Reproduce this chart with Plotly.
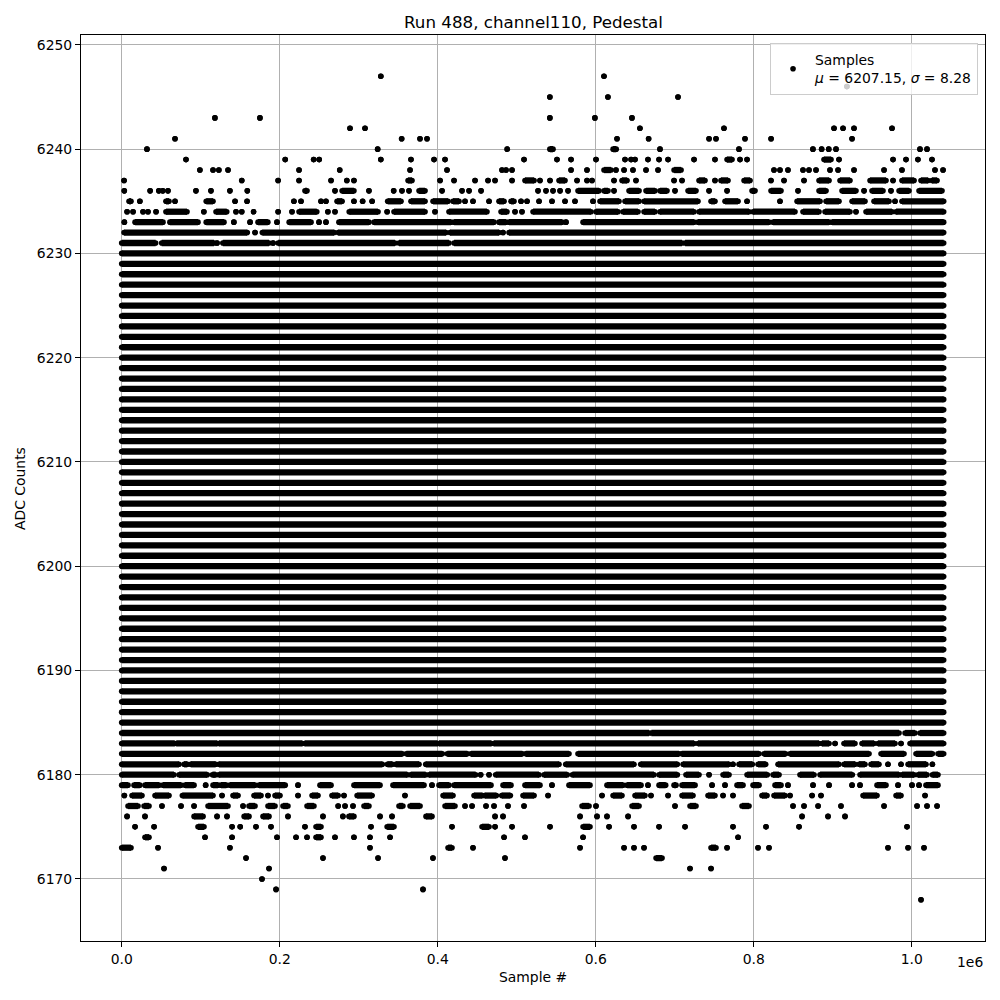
import plotly.graph_objects as go

# ---------------- data (sample index in units of 1e6, ADC code levels) ----------------
SCALE = 1e6
full_levels = [6185, 6186, 6187, 6188, 6189, 6190, 6191, 6192, 6193, 6194, 6195, 6196,
               6197, 6198, 6199, 6200, 6201, 6202, 6203, 6204, 6205, 6206, 6207, 6208,
               6209, 6210, 6211, 6212, 6213, 6214, 6215, 6216, 6217, 6218, 6219, 6220,
               6221, 6222, 6223, 6224, 6225, 6226, 6227, 6228, 6229, 6230]
full_run = (0.0, 1.0405)

# outer ADC codes: runs of consecutive samples (a, b) or isolated samples (x)
edge_levels = [6247, 6246, 6245, 6243, 6242, 6241, 6240, 6239, 6238, 6237, 6236, 6235,
               6234, 6233, 6232, 6231,
               6184, 6183, 6182, 6181, 6180, 6179, 6178, 6177, 6176, 6175, 6174, 6173,
               6172, 6171, 6170, 6169, 6168]
edge_runs = [
    [0.328, 0.6105],
    [0.918],
    [0.542, 0.6155, 0.7042],
    [0.118, 0.175, 0.542, 0.599, 0.6459],
    [0.289, 0.308, 0.656, 0.7624, 0.9017, 0.9131, 0.927, 0.9751],
    [0.0675, 0.3544, 0.3776, 0.3865, 0.627, 0.667, 0.7435, 0.7523, 0.789, 0.822, 0.9245],
    [0.032, 0.324, 0.488, (0.542, 0.546), (0.622, 0.626), 0.6814, 0.7814, 0.875, 0.886,
     0.895, 0.9042, 1.0105, 1.0194],
    [0.0814, 0.207, 0.243, 0.250, 0.328, 0.3662, 0.3954, 0.4093, 0.5093, 0.551, 0.5688,
     0.6004, 0.6371, 0.6448, 0.6498, 0.6662, 0.6802, 0.6916, 0.7245, 0.751, (0.7663, 0.7726),
     0.7827, 0.7916, (0.889, 0.8979), 0.908, 0.9764, 0.9928, 1.0079, 1.0257],
    [0.099, 0.1156, 0.123, 0.1346, 0.2245, 0.276, 0.365, 0.4118, 0.4814, 0.4865, 0.4941,
     0.5688, 0.589, (0.6105, 0.6194), 0.6257, 0.6359, 0.6472, 0.6637, 0.6789, (0.6992, 0.7081),
     0.8257, 0.8333, 0.8434, 0.8624, 0.87, 0.8789, 0.8966, 0.9068, 0.927, 0.965, 0.9877,
     1.0295, 1.0397],
    [0.003, 0.152, 0.198, 0.2245, 0.265, 0.285, 0.294, (0.3625, 0.3675), 0.403, 0.4207,
     0.4473, 0.4637, 0.4726, 0.4941, (0.5105, 0.522), 0.5295, 0.5422, (0.5536, 0.5612),
     0.5764, 0.589, 0.5954, 0.6232, (0.6333, 0.6397), 0.651, 0.6992, 0.7093, (0.7308, 0.7384),
     0.751, (0.7586, 0.7675), (0.7878, 0.7954), 0.8219, 0.8384, 0.8637, (0.8827, 0.8954),
     (0.9093, 0.9219), (0.9473, 0.9675), 0.9764, (0.9877, 1.003), (1.0118, 1.0207),
     (1.0257, 1.0321)],
    [0.0033, 0.036, 0.047, 0.052, 0.0586, 0.094, 0.113, 0.137, 0.159, (0.232, 0.2346), 0.27,
     (0.279, 0.294), 0.313, 0.3443, 0.3548, 0.3637, (0.3764, 0.384), 0.4055, 0.4308, 0.4397,
     0.4549, 0.527, 0.5371, 0.546, 0.5549, 0.565, (0.5776, 0.6042), (0.6105, 0.6156), 0.6232,
     (0.6422, 0.6549), (0.6637, 0.6751), (0.6814, 0.6903), 0.7004, (0.7169, 0.727), 0.7435,
     0.7663, (0.7979, 0.8017), (0.8219, 0.8346), 0.8561, (0.8827, 0.8916), (0.9118, 0.9295),
     0.9397, (0.9498, 0.9637), 0.9738, (0.984, 0.9966), (1.0093, 1.0384)],
    [(0.0093, 0.0118), 0.023, (0.056, 0.0599), 0.0675, (0.107, 0.1156), 0.1435, 0.1587, 0.218,
     0.227, 0.2523, 0.2586, (0.2726, 0.279), 0.294, 0.305, 0.317, (0.3367, 0.3536),
     (0.3662, 0.384), (0.3941, 0.4131), (0.4194, 0.427), 0.4346, 0.4447, 0.465, (0.4776, 0.484),
     (0.4928, 0.4966), 0.5055, 0.5131, 0.5283, 0.5447, 0.5612, 0.5738, 0.5966, (0.6055, 0.6295),
     (0.6371, 0.6549), (0.6612, 0.7295), (0.746, 0.751), (0.7637, 0.7802), 0.7916, 0.8333,
     (0.8549, 0.884), (0.8916, 0.908), (0.9245, 0.9409), (0.9523, 0.9713), 0.9789,
     (0.9877, 1.0405)],
    [0.0068, 0.0144, 0.027, 0.0333, 0.0435, (0.056, 0.0827), 0.104, (0.1194, 0.133), 0.1447,
     0.152, 0.167, 0.198, 0.2156, (0.2245, 0.247), 0.261, 0.27, (0.288, 0.3245), 0.336,
     (0.3447, 0.384), 0.3966, (0.4143, 0.4624), (0.4802, 0.4878), 0.4979, 0.5067,
     (0.5207, 0.5941), (0.6004, 0.6283), (0.6346, 0.6536), (0.6612, 0.6751), (0.6814, 0.7245),
     (0.7308, 0.7941), (0.7992, 0.8523), (0.8624, 0.8827), (0.8903, 0.9219), 0.9295,
     (0.9422, 0.9751), (0.9802, 1.0405)],
    [0.0034, (0.0169, 0.0523), (0.061, 0.0966), (0.107, 0.1295), 0.142, 0.1625, (0.1726, 0.185),
     0.1966, (0.212, 0.2397), 0.2498, 0.2586, (0.275, 0.313), (0.3194, 0.4169), (0.4207, 0.4713),
     (0.4776, 0.4865), (0.4903, 0.5574), 0.5624, (0.584, 0.7245), (0.7295, 0.8194),
     (0.8245, 0.8954), (0.8992, 1.0405)],
    [(0.003, 0.159), 0.1688, (0.178, 0.269), (0.274, 0.4105), (0.4156, 0.4776), 0.4827,
     (0.4903, 1.0405)],
    [(0.0, 0.043), (0.0506, 0.117), 0.1207, (0.128, 0.1865), 0.1916, (0.198, 0.346),
     (0.351, 0.4143), (0.4207, 0.7093), (0.7131, 1.0405)],
    [(0.0, 0.6675), (0.6705, 0.984), (0.9916, 1.0042), (1.0105, 1.0405)],
    [(0.0, 0.0671), (0.0692, 0.121), (0.123, 0.2287), (0.2316, 0.400), (0.4017, 0.468),
     (0.471, 0.7245), (0.7295, 0.8827), (0.8865, 0.8954), 0.903, (0.9143, 0.9282),
     (0.9371, 0.9523), (0.9574, 0.9789), 0.9865, (0.9979, 1.0405)],
    [(0.0, 0.3553), (0.3603, 0.4059), (0.4122, 0.4376), (0.4422, 0.5072), (0.5114, 0.5662),
     (0.5776, 0.7055), (0.7089, 0.8068), (0.8131, 0.8405), (0.846, 0.946), (0.9612, 0.9903),
     (1.0055, 1.0262), (1.0333, 1.0405)],
    [(0.0, 0.0726), (0.0789, 0.0831), (0.0873, 0.119), (0.123, 0.33), (0.3363, 0.3426),
     (0.3468, 0.3764), (0.3848, 0.5536), (0.562, 0.6485), (0.657, 0.7034), (0.7106, 0.7688),
     0.7738, (0.7814, 0.7983), (0.8055, 0.8152), (0.8308, 0.908), (0.9143, 0.9282),
     (0.9333, 0.9409), (0.9485, 0.9586), 0.97, 0.9865, (0.9954, 1.0181), 1.0262],
    [(0.0, 0.0662), (0.0726, 0.1084), (0.1148, 0.119), (0.123, 0.3616), (0.3658, 0.3848),
     (0.389, 0.4481), 0.4544, 0.465, (0.4734, 0.5283), (0.5346, 0.5641), (0.5705, 0.6738),
     (0.6802, 0.7034), (0.7143, 0.7308), 0.7435, (0.7612, 0.7688), (0.7916, 0.8173),
     (0.8245, 0.8321), (0.8586, 0.8764), (0.884, 0.9249), (0.9346, 0.984), (0.9877, 1.003),
     (1.008, 1.0194), (1.0262, 1.0333)],
    [(0.0, 0.008), (0.0156, 0.023), (0.0295, 0.0473), (0.0523, 0.0751), (0.0802, 0.0916),
     0.1063, (0.1156, 0.122), (0.1257, 0.1325), (0.137, 0.1688), (0.1738, 0.207), 0.2232,
     (0.251, 0.265), (0.294, 0.327), (0.3434, 0.3827), 0.3928, (0.4017, 0.4143),
     (0.4207, 0.4675), (0.4827, 0.4928), (0.5105, 0.5295), 0.5447, (0.5662, 0.5928),
     (0.6143, 0.6346), (0.6397, 0.6574), 0.6662, (0.6802, 0.6886), (0.6992, 0.7017),
     (0.7093, 0.7258), 0.7473, 0.7637, (0.7789, 0.7865), (0.7992, 0.8068), (0.827, 0.8346),
     0.8434, 0.8751, 0.8954, 0.9245, 0.9346, (0.9561, 0.9675), 0.9827, 1.0004, 1.0093,
     (1.0181, 1.0333)],
    [0.0034, (0.0131, 0.0257), (0.0422, 0.0599), (0.0768, 0.1156), 0.127, (0.1409, 0.1473),
     (0.1675, 0.1764), 0.1852, (0.1941, 0.2004), 0.2232, (0.241, 0.2485), (0.2662, 0.274),
     0.2814, (0.298, 0.317), 0.3586, (0.4068, 0.4194), (0.446, 0.4566), (0.4595, 0.4743),
     (0.481, 0.492), (0.508, 0.522), 0.5397, 0.608, (0.622, 0.6333), (0.6498, 0.6624), 0.67,
     0.6916, (0.7093, 0.7232), (0.7422, 0.751), 0.7612, 0.7738, (0.8105, 0.8169),
     (0.8257, 0.8397), 0.846, 0.8739, 0.8852, (0.9384, 0.9561), (0.9802, 0.9865), 1.0169],
    [(0.008, 0.0207), (0.0283, 0.0346), 0.051, 0.0751, 0.0916, (0.1093, 0.1346), 0.1536,
     (0.1612, 0.1688), (0.1852, 0.1941), (0.2042, 0.2105), (0.2346, 0.2434), 0.274, 0.2827,
     0.2928, (0.3067, 0.313), (0.351, 0.356), (0.365, 0.3777), (0.4093, 0.4219), 0.4346,
     0.4435, 0.4612, 0.4713, 0.489, 0.5093, (0.5827, 0.5916), 0.6004, (0.646, 0.6549), 0.7004,
     (0.7194, 0.727), (0.7852, 0.7941), 0.8498, 0.8637, 0.8815, 0.9105, 0.965, 1.0068, 1.0194,
     1.0321],
    [0.0068, 0.0295, (0.0916, 0.103), 0.1207, 0.1333, (0.155, 0.1612), (0.1789, 0.1865), 0.2105,
     0.2548, 0.28, (0.2877, 0.294), 0.327, 0.3422, (0.3852, 0.3928), 0.4726, 0.4827, 0.5802,
     0.6017, 0.6143, 0.641, 0.8612, 0.8941, 0.9156],
    [0.0169, 0.041, (0.0966, 0.1042), 0.1397, 0.15, 0.17, 0.189, 0.232, (0.246, 0.2523), 0.3156,
     (0.336, 0.3447), 0.4181, (0.4561, 0.465), 0.4726, 0.4941, 0.5422, (0.584, 0.5928), 0.6169,
     0.6485, 0.6802, 0.7131, 0.7738, 0.8156, 0.8574, 0.9941],
    [(0.0295, 0.0346), 0.1055, 0.1397, 0.1966, 0.2207, 0.2346, (0.246, 0.2523), 0.27, 0.294,
     0.3143, 0.3397, 0.484, 0.5105, 0.584, 0.7802],
    [(0.0, 0.0118), 0.046, 0.137, 0.3143, (0.4131, 0.4181), 0.4447, 0.5802, 0.6359, 0.6485,
     0.6612, (0.746, 0.7523), 0.7663, 0.8055, 0.8194, 0.97, 0.9954, 1.0156],
    [0.1574, 0.2548, 0.3245, 0.394, 0.4852, (0.6764, 0.684)],
    [0.0536, 0.1865, 0.7194, 0.746],
    [0.1776],
    [0.1954, 0.3814],
    [1.0118],
]

x_ticks = [0.0, 0.2, 0.4, 0.6, 0.8, 1.0]
x_tick_labels = ["0.0", "0.2", "0.4", "0.6", "0.8", "1.0"]
y_ticks = [6170, 6180, 6190, 6200, 6210, 6220, 6230, 6240, 6250]
title_text = "Run 488, channel110, Pedestal"
legend_text = "Samples<br><i>μ</i> = 6207.15, <i>σ</i> = 8.28"

# ---------------- build marks ----------------
xs, ys = [], []


def add_run(level, run):
    a, b = (run, run) if isinstance(run, (int, float)) else run
    xs.extend([a * SCALE, b * SCALE, None])
    ys.extend([level, level, None])


for lvl in full_levels:
    add_run(lvl, full_run)
for lvl, runs in zip(edge_levels, edge_runs):
    for r in runs:
        add_run(lvl, r)

FONT = "DejaVu Sans"
MS = 5.6
LW = 6.3

fig = go.Figure()
fig.add_trace(go.Scatter(
    x=xs, y=ys, mode="lines+markers", showlegend=False, hoverinfo="skip",
    line=dict(color="black", width=LW),
    marker=dict(color="black", size=MS, line=dict(width=0)),
    connectgaps=False,
))
fig.add_trace(go.Scatter(
    x=[None], y=[None], mode="markers", name=legend_text,
    marker=dict(color="black", size=MS, line=dict(width=0)),
))

axis_common = dict(
    showgrid=True, gridcolor="#b0b0b0", gridwidth=1,
    showline=True, linecolor="black", linewidth=1, mirror=True,
    ticks="outside", ticklen=5, tickwidth=1, tickcolor="black",
    tickfont=dict(family=FONT, size=13.9, color="black"),
    zeroline=False,
)

fig.update_layout(
    width=992, height=992,
    margin=dict(l=73, r=15, t=27, b=59),
    paper_bgcolor="white", plot_bgcolor="white",
    font=dict(family=FONT, size=13.9, color="black"),
    xaxis=dict(range=[-0.0515 * SCALE, 1.0928 * SCALE],
               tickvals=[v * SCALE for v in x_ticks], ticktext=x_tick_labels,
               **axis_common),
    yaxis=dict(range=[6164.05, 6250.95], tickvals=y_ticks, **axis_common),
    legend=dict(x=0.9923, y=0.991, xanchor="right", yanchor="top",
                bgcolor="rgba(255,255,255,0.8)", bordercolor="#cccccc", borderwidth=1,
                font=dict(family=FONT, size=13.9, color="black"), valign="middle",
                itemwidth=34),
    annotations=[
        dict(text=title_text, x=0.5, y=1.0143, xref="paper", yref="paper",
             xanchor="center", yanchor="middle", showarrow=False,
             font=dict(family=FONT, size=16.7, color="black")),
        dict(text="Sample #", x=0.5, y=-0.0397, xref="paper", yref="paper",
             xanchor="center", yanchor="middle", showarrow=False,
             font=dict(family=FONT, size=13.9, color="black")),
        dict(text="ADC Counts", x=-0.0675, y=0.5, xref="paper", yref="paper",
             xanchor="center", yanchor="middle", showarrow=False, textangle=-90,
             font=dict(family=FONT, size=13.9, color="black")),
        dict(text="1e6", x=1.0, y=-0.0232, xref="paper", yref="paper",
             xanchor="right", yanchor="middle", showarrow=False,
             font=dict(family=FONT, size=13.9, color="black")),
    ],
)

fig.write_html("out.html")
